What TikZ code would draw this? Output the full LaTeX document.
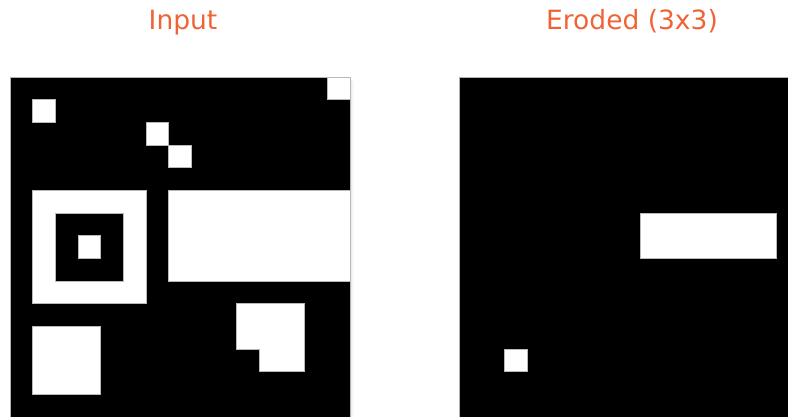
\documentclass[tikz,border=0pt]{standalone}
\usepackage{fontspec}
\setmainfont{DejaVu Sans}
\definecolor{titleorange}{RGB}{240,99,52}

\begin{document}
\begin{tikzpicture}[x=1pt, y=1pt,
      title/.style={font=\fontsize{26.5}{30}\selectfont, text=titleorange,
                    anchor=base, inner sep=0pt},
      panel/.style={fill=black, draw=gray!60, line width=0.6pt},
      pix/.style={fill=white, draw=gray!55, line width=0.5pt},
      hole/.style={fill=black, draw=gray!55, line width=0.5pt},
      pixgrid/.style={x=22.667pt, y=-22.667pt}
    ]
    \useasboundingbox (0,0) rectangle (788,417);
    % titles
    \node[title] (intitle) at (183,387) {Input};
    \node[title] (ertitle) at (632,387) {Eroded (3x3)};
    % input image, with its soft shadow
    \fill[gray!30] (350,0) rectangle (351.2,338);
    \fill[gray!15] (351.2,0) rectangle (352.4,337);
    \fill[gray!6] (352.4,0) rectangle (353.6,336);
    \draw[panel] (10,0) rectangle (350,340);
    \begin{scope}[shift={(10,340)}, pixgrid]
      \foreach \c/\r in {14/0, 1/1, 6/2, 7/3}
        \draw[pix] (\c,\r) rectangle ++(1,1);
      \draw[pix] (1,5) rectangle (6,10);
      \draw[hole] (2,6) rectangle (5,9);
      \draw[pix] (3,7) rectangle (4,8);
      \draw[pix] (7,5) rectangle (15,9);
      \draw[pix] (10,10) -- (13,10) -- (13,13) -- (11,13) -- (11,12) -- (10,12) -- cycle;
      \draw[pix] (1,11) rectangle (4,14);
    \end{scope}
    % eroded image
    \draw[panel] (459.3,0) rectangle (789,340);
    \begin{scope}[shift={(459.3,340)}, pixgrid]
      \draw[pix] (8,6) rectangle (14,8);
      \draw[pix] (2,12) rectangle ++(1,1);
    \end{scope}
  \end{tikzpicture}
\end{document}
